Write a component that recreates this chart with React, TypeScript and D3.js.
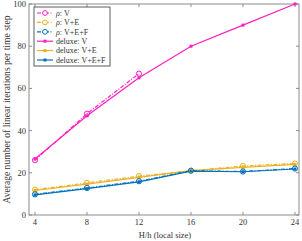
import React, { useEffect, useRef } from 'react';
import * as d3 from 'd3';

const sizes = [4, 8, 12, 16, 20, 24];
const rhoV = [26, 48, 67];
const rhoVE = [12, 15.2, 18.4, 21, 23.2, 24.4];
const rhoVEF = [9.8, 12.8, 16, 21, 20.6, 22];
const deluxeV = [26.5, 47, 65, 80, 90, 100];
const deluxeVE = [11.6, 14.6, 17.8, 21, 22.6, 24];
const deluxeVEF = [9.5, 12.5, 15.7, 20.8, 20.5, 21.8];
const xTicks = [4, 8, 12, 16, 20, 24];
const yTicks = [0, 20, 40, 60, 80, 100];

const PINK = '#ff1fc0';
const YELLOW = '#edb120';
const BLUE = '#0072bd';

const series = [
  { name: 'ρ', label: ': V', values: rhoV, color: PINK, dashed: true },
  { name: 'ρ', label: ': V+E', values: rhoVE, color: YELLOW, dashed: true },
  { name: 'ρ', label: ': V+E+F', values: rhoVEF, color: BLUE, dashed: true },
  { name: '', label: 'deluxe: V', values: deluxeV, color: PINK, dashed: false },
  { name: '', label: 'deluxe: V+E', values: deluxeVE, color: YELLOW, dashed: false },
  { name: '', label: 'deluxe: V+E+F', values: deluxeVEF, color: BLUE, dashed: false },
];

export default function App() {
  const ref = useRef<SVGSVGElement>(null);

  useEffect(() => {
    const svg = d3.select(ref.current);
    svg.selectAll('*').remove();
    const font = '"Liberation Serif", "Times New Roman", serif';
    const left = 29, right = 299, top = 4, bottom = 215;
    const axisColor = '#8a8a8a';

    const x = d3.scaleLinear().domain([3.54, 24.31]).range([left, right]);
    const y = d3.scaleLinear().domain([0, 100]).range([bottom, top]);

    const g = svg.append('g');

    // box
    g.append('rect')
      .attr('x', left).attr('y', top)
      .attr('width', right - left).attr('height', bottom - top)
      .attr('fill', 'white').attr('stroke', axisColor).attr('stroke-width', 1);

    // ticks (inward, all sides)
    xTicks.forEach((t) => {
      g.append('line').attr('x1', x(t)).attr('x2', x(t)).attr('y1', bottom).attr('y2', bottom - 3).attr('stroke', axisColor);
      g.append('line').attr('x1', x(t)).attr('x2', x(t)).attr('y1', top).attr('y2', top + 3).attr('stroke', axisColor);
      g.append('text').attr('x', x(t)).attr('y', bottom + 10).attr('text-anchor', 'middle')
        .attr('font-family', font).attr('font-size', 8.5).attr('fill', '#333').text(String(t));
    });
    yTicks.forEach((t) => {
      g.append('line').attr('x1', left).attr('x2', left + 3).attr('y1', y(t)).attr('y2', y(t)).attr('stroke', axisColor);
      g.append('line').attr('x1', right).attr('x2', right - 3).attr('y1', y(t)).attr('y2', y(t)).attr('stroke', axisColor);
      g.append('text').attr('x', left - 3).attr('y', y(t) + 3).attr('text-anchor', 'end')
        .attr('font-family', font).attr('font-size', 8.5).attr('fill', '#333').text(String(t));
    });

    g.append('text').attr('x', (left + right) / 2 + 1).attr('y', 238).attr('text-anchor', 'middle')
      .attr('font-family', font).attr('font-size', 8.5).attr('fill', '#333').text('H/h (local size)');
    g.append('text')
      .attr('transform', `translate(10,${(top + bottom) / 2}) rotate(-90)`)
      .attr('text-anchor', 'middle')
      .attr('font-family', font).attr('font-size', 9.6).attr('fill', '#333')
      .text('Average number of linear iterations per time step');

    const line = d3.line<number>().x((_, i) => x(sizes[i])).y((d) => y(d));

    // solid first, dashed over
    const order = [3, 4, 5, 0, 1, 2];
    order.forEach((k) => {
      const s = series[k];
      g.append('path').attr('d', line(s.values))
        .attr('fill', 'none').attr('stroke', s.color).attr('stroke-width', 1.2)
        .attr('stroke-dasharray', s.dashed ? '4,1.5,1,1.5' : null);
      s.values.forEach((v, i) => {
        if (s.dashed) {
          g.append('circle').attr('cx', x(sizes[i])).attr('cy', y(v)).attr('r', 2.6)
            .attr('fill', 'none').attr('stroke', s.color).attr('stroke-width', 1);
        } else {
          g.append('rect').attr('x', x(sizes[i]) - 1.5).attr('y', y(v) - 1.5)
            .attr('width', 3).attr('height', 3).attr('fill', s.color);
        }
      });
    });

    // legend
    const lg = g.append('g');
    lg.append('rect').attr('x', 34).attr('y', 7).attr('width', 76).attr('height', 59)
      .attr('fill', 'white').attr('stroke', '#333').attr('stroke-width', 0.8);
    series.forEach((s, i) => {
      const ly = 13 + i * 9.4;
      lg.append('line').attr('x1', 37).attr('x2', 53).attr('y1', ly).attr('y2', ly)
        .attr('stroke', s.color).attr('stroke-width', 1.2)
        .attr('stroke-dasharray', s.dashed ? '4,1.5,1,1.5' : null);
      if (s.dashed) {
        lg.append('circle').attr('cx', 45).attr('cy', ly).attr('r', 2.4)
          .attr('fill', 'white').attr('stroke', s.color).attr('stroke-width', 1);
      } else {
        lg.append('rect').attr('x', 43.5).attr('y', ly - 1.5).attr('width', 3).attr('height', 3).attr('fill', s.color);
      }
      const t = lg.append('text').attr('x', 56).attr('y', ly + 2.8)
        .attr('font-family', font).attr('font-size', 8).attr('fill', '#333');
      if (s.name) {
        t.append('tspan').attr('font-style', 'italic').text(s.name);
      }
      t.append('tspan').text(s.label);
    });
  }, []);

  return (
    <svg ref={ref} width={302} height={241} style={{ position: 'absolute', left: 0, top: 0, background: 'white' }} />
  );
}
